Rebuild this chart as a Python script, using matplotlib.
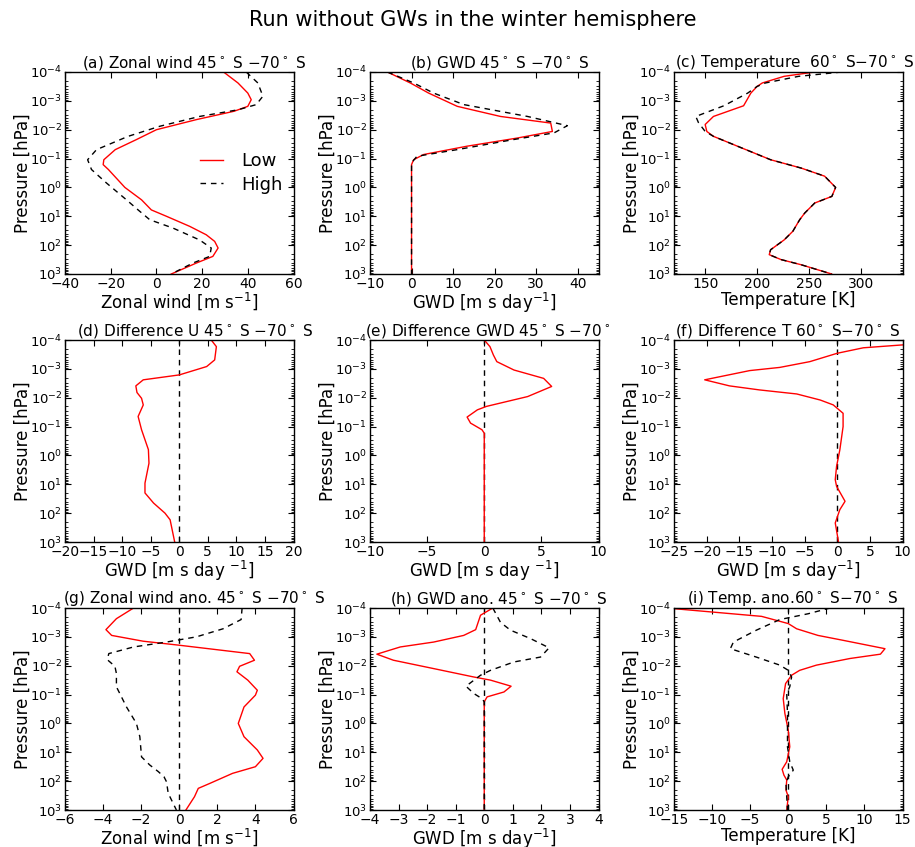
#!/usr/bin/env python3
# Profiles of zonal wind, GWD and temperature, run without GWs (winter hemisphere)

import numpy as np
import matplotlib
matplotlib.use('Agg')
from matplotlib import pyplot as plt
from matplotlib.ticker import LogLocator, MultipleLocator

# ---------------------------------------------------------------- data
# levels are log10(pressure / hPa)
a_low_lev = [-4, -3.62, -3.27, -3.04, -2.81, -2.64, -2.35, -2.0, -1.66, -1.31, -0.96, -0.79,
             -0.62, 0.0, 0.43, 0.78, 1.0, 1.35, 1.64, 1.87, 2.1, 2.39, 2.62, 3.0]
a_low = [29.4, 35.7, 40, 41.5, 40, 34, 17.5, 0, -8.7, -18, -23, -23.3,
         -21, -13.8, -6.5, -2.2, 4.4, 14.6, 21.8, 25.5, 27, 24.7, 17.5, 6.5]
a_high_lev = [-4, -3.62, -3.16, -2.87, -2.69, -2.46, -2.12, -1.77, -1.31, -0.96, -0.62,
              -0.15, 0.43, 0.78, 1.12, 1.41, 1.82, 2.1, 2.39, 2.62, 3.0]
a_high = [39.3, 44.4, 46.6, 43.7, 35.7, 18.9, 1.5, -12.4, -26.2, -30.1, -28.4,
          -21.8, -13.1, -8, -2.9, 7.3, 18.9, 24, 23.3, 16, 6.5]

b_low_lev = [-4, -3.62, -3.27, -2.81, -2.46, -2.23, -1.94, -1.71, -1.43, -1.14, -0.96, -0.79, 0, 1, 2, 3]
b_low = [-5.8, -0.3, 4.1, 11, 21.4, 33.5, 33.9, 25.4, 13.4, 2.9, 0.5, 0, 0, 0, 0, 0]
b_high_lev = [-4, -3.62, -3.27, -2.87, -2.46, -2.14, -1.89, -1.66, -1.31, -1.08, -0.85, 0, 1, 2, 3]
b_high = [-5.8, 0.5, 5.3, 12.6, 27.9, 37.5, 34.3, 24.6, 11, 1.3, 0, 0, 0, 0, 0]

c_low_lev = [-4, -3.85, -3.62, -3.5, -3.27, -2.83, -2.46, -2.18, -1.94, -1.77, -1.43, -0.96, -0.67,
             -0.39, 0, 0.31, 0.54, 0.89, 1.12, 1.52, 1.82, 2.16, 2.33, 2.5, 2.68, 3]
c_low = [255.5, 226, 205, 200, 194, 187, 158, 150, 151.6, 158, 181, 213, 242.5,
         265, 275.6, 272, 255.5, 245.8, 241, 234.4, 226, 213, 211.7, 223, 242.5, 271.8]
c_high_lev = [-4, -3.85, -3.62, -3.5, -3.27, -2.83, -2.46, -2.25, -1.94, -1.77, -1.43, -0.96, -0.67,
              -0.39, 0, 0.31, 0.54, 0.89, 1.12, 1.52, 1.82, 2.16, 2.33, 2.5, 2.68, 3]
c_high = [281.5, 240, 208, 200, 191, 168, 141, 143.5, 150, 158, 181, 213, 242.5,
          265, 275.6, 272, 255.5, 245.8, 241, 234.4, 226, 213, 211.7, 223, 242.5, 271.8]

d_lev = [-4, -3.77, -3.31, -3.08, -2.79, -2.62, -2.41, -2.18, -1.98, -1.75, -1.35, -0.89,
         -0.2, 0.27, 0.96, 1.3, 1.65, 2.0, 2.23, 3]
d_val = [5.6, 6.5, 6.2, 4.8, 0, -6.3, -7.6, -7.4, -6.6, -6.3, -7.2, -6.6,
         -5.4, -5.3, -6, -6, -4.5, -2.5, -1.6, -0.8]

e_lev = [-4, -3.77, -3.48, -3.25, -2.96, -2.67, -2.39, -2.04, -1.7, -1.58, -1.33, -1.12,
         -0.89, -0.77, 0, 1, 2, 3]
e_val = [0, 0.5, 0.8, 1.1, 2.6, 5.2, 5.9, 3.8, 0.2, -0.6, -1.5, -1.2,
         -0.2, 0, 0, 0, 0, 0]

f_lev = [-4, -3.83, -3.73, -3.54, -3.25, -3.05, -2.94, -2.62, -2.41, -2.27, -2.13, -1.92,
         -1.75, -1.46, -1.0, -0.19, 0.38, 0.84, 1.07, 1.59, 1.88, 2.34, 3]
f_val = [20, 10, 4, 0, -4.2, -8.8, -13.4, -20.3, -16.5, -11.9, -6.2, -2.6,
         -0.6, 0.9, 0.9, 0.4, -0.1, -0.3, -0.1, 1.2, 0.4, -0.3, 0.2]

g_low_lev = [-4, -3.63, -3.25, -3.05, -2.85, -2.71, -2.42, -2.19, -1.98, -1.79, -1.5, -1.15,
             -0.98, -0.57, 0, 0.46, 0.92, 1.21, 1.5, 1.73, 2.08, 2.25, 2.54, 3]
g_low = [-2.4, -3.3, -3.85, -3.55, -1.9, 0, 3.7, 3.95, 3.17, 3.03, 3.6, 4.1,
         4, 3.4, 3.1, 3.4, 4.1, 4.4, 4, 2.8, 1.6, 1.0, 0.8, 0.35]
g_high_lev = [-4, -3.6, -3.28, -3.0, -2.82, -2.65, -2.42, -2.21, -1.98, -1.73, -1.27,
              -0.57, 0, 0.46, 1.16, 1.44, 1.67, 1.85, 2.02, 2.42, 3]
g_high = [3.3, 3.25, 2.3, 0.9, -0.67, -2.4, -3.7, -3.78, -3.38, -3.3, -3.3,
          -2.77, -2.25, -2.07, -1.98, -1.55, -1.1, -0.8, -0.67, -0.58, -0.15]

h_low_lev = [-4, -3.75, -3.25, -3.05, -2.82, -2.65, -2.4, -2.19, -1.9, -1.61, -1.5, -1.29,
             -1.09, -0.92, -0.75, 0, 1, 2, 3]
h_low = [0.3, -0.13, -0.3, -0.72, -1.77, -2.94, -3.76, -3.18, -1.77, -0.37, 0.22, 0.94,
         0.69, 0.1, 0, 0, 0, 0, 0]
h_high_lev = [-4, -3.5, -3.23, -2.94, -2.62, -2.3, -2.13, -1.84, -1.67, -1.29, -1.04, -0.86,
              -0.75, 0, 1, 2, 3]
h_high = [0.3, 0.57, 0.92, 1.62, 2.27, 1.97, 1.04, 0.22, -0.13, -0.64, -0.37, -0.08,
          0, 0, 0, 0, 0]

i_low_lev = [-4, -3.71, -3.46, -3.28, -3.05, -2.88, -2.59, -2.4, -2.25, -2.02, -1.84, -1.67,
             -1.38, -0.86, -0.34, 0.23, 0.81, 1.33, 1.59, 1.79, 1.96, 2.31, 2.54, 3]
i_low = [-16, -3.5, 0, 1.1, 3.9, 7.2, 12.7, 12.1, 8.1, 3.7, 1.5, 0.44,
         -0.35, -0.66, -0.44, 0, 0.2, -0.2, -0.8, -0.57, -0.2, -0.3, 0, -0.2]
i_high_lev = [-4, -3.8, -3.6, -3.23, -2.82, -2.59, -2.3, -2.02, -1.84, -1.61, -1.27, -1.04,
              -0.34, 0.81, 1.33, 1.62, 1.85, 2.08, 3]
i_high = [5.5, 2.6, -1.1, -4.2, -7.2, -7.6, -4.2, -1.1, 0, 0.44, 0.2, -0.2,
          -0.1, -0.1, 0.2, 0.66, 0, -0.3, -0.1]

# ---------------------------------------------------------------- style
plt.rcParams['xtick.direction'] = 'in'
plt.rcParams['ytick.direction'] = 'in'
plt.rcParams['xtick.top'] = True
plt.rcParams['ytick.right'] = True
plt.rcParams['xtick.major.size'] = 4
plt.rcParams['ytick.major.size'] = 4
plt.rcParams['ytick.minor.size'] = 2
plt.rcParams['xtick.major.pad'] = 2
plt.rcParams['ytick.major.pad'] = 2
plt.rcParams['xtick.labelsize'] = 10
plt.rcParams['ytick.labelsize'] = 9.5
plt.rcParams['axes.linewidth'] = 1.0

fig = plt.figure(figsize=(9.15, 8.47), dpi=100)
W, H = 915., 847.
col_left = [65, 370, 674]
row_top = [72, 340, 608]
aw, ah = 228.5, 202


def make_ax(r, c):
    return fig.add_axes([col_left[c] / W, 1 - (row_top[r] + ah) / H, aw / W, ah / H])


def p(lev):
    return 10.0 ** np.array(lev)


DASH = (4, 3.5)

panels = [
    # (row, col, title, title start [px from axes left], xlabel, xlim, xstep, curves, zero line)
    (0, 0, r'(a) Zonal wind $45^\circ$ S $-70^\circ$ S', 17, r'Zonal wind [m s$^{-1}$]', (-40, 60), 20,
     [(a_low_lev, a_low, 'r', 'Low'), (a_high_lev, a_high, 'k--', 'High')], False),
    (0, 1, r'(b) GWD $45^\circ$ S $-70^\circ$ S', 40, r'GWD [m s day$^{-1}$]', (-10, 45), 10,
     [(b_low_lev, b_low, 'r', None), (b_high_lev, b_high, 'k--', None)], False),
    (0, 2, r'(c) Temperature  $60^\circ$ S$-70^\circ$ S', 1, 'Temperature [K]', (120, 340), 50,
     [(c_low_lev, c_low, 'r', None), (c_high_lev, c_high, 'k--', None)], False),
    (1, 0, r'(d) Difference U $45^\circ$ S $-70^\circ$ S', 12, r'GWD [m s day $^{-1}$]', (-20, 20), 5,
     [(d_lev, d_val, 'r', None)], True),
    (1, 1, r'(e) Difference GWD $45^\circ$ S $-70^\circ$', -5, r'GWD [m s day $^{-1}$]', (-10, 10), 5,
     [(e_lev, e_val, 'r', None)], True),
    (1, 2, r'(f) Difference T $60^\circ$ S$-70^\circ$ S', 1, r'GWD [m s day$^{-1}$]', (-25, 10), 5,
     [(f_lev, f_val, 'r', None)], True),
    (2, 0, r'(g) Zonal wind ano. $45^\circ$ S $-70^\circ$ S', -2, r'Zonal wind [m s$^{-1}$]', (-6, 6), 2,
     [(g_low_lev, g_low, 'r', None), (g_high_lev, g_high, 'k--', None)], True),
    (2, 1, r'(h) GWD ano. $45^\circ$ S $-70^\circ$ S', 20, r'GWD [m s day$^{-1}$]', (-4, 4), 1,
     [(h_low_lev, h_low, 'r', None), (h_high_lev, h_high, 'k--', None)], True),
    (2, 2, r'(i) Temp. ano.$60^\circ$ S$-70^\circ$ S', 13, 'Temperature [K]', (-15, 15), 5,
     [(i_low_lev, i_low, 'r', None), (i_high_lev, i_high, 'k--', None)], True),
]

for r, c, title, tx, xlabel, xlim, xstep, curves, zero in panels:
    ax = make_ax(r, c)
    if zero:
        ax.plot([0, 0], [1e3, 1e-4], 'k', ls='--', dashes=DASH, lw=1)
    for lev, val, fmt, lab in curves:
        if fmt == 'r':
            ax.plot(val, p(lev), color='r', lw=1, label=lab)
        else:
            ax.plot(val, p(lev), color='k', ls='--', dashes=DASH, lw=1, label=lab)
    ax.set_yscale('log')
    ax.set_ylim(1e3, 1e-4)
    ax.yaxis.set_major_locator(LogLocator(base=10, numticks=20))
    ax.yaxis.set_minor_locator(LogLocator(base=10, subs=np.arange(2, 10), numticks=20))
    ax.set_xlim(*xlim)
    ax.xaxis.set_major_locator(MultipleLocator(xstep))
    ax.set_title(title, fontsize=11, pad=3, loc='left', x=tx / aw)
    ax.set_xlabel(xlabel, fontsize=12, labelpad=0)
    ax.set_ylabel('Pressure [hPa]', fontsize=12, labelpad=-1)
    if r == 0 and c == 0:
        ax.legend(loc='center left', bbox_to_anchor=(0.59, 0.5), frameon=False,
                  fontsize=13, handlelength=1.3, handletextpad=1.0, labelspacing=0.3,
                  borderpad=0, borderaxespad=0)

fig.text(473 / W, 1 - 20 / H, 'Run without GWs in the winter hemisphere',
         ha='center', va='center', fontsize=15)

fig.savefig('out.png', dpi=100)
